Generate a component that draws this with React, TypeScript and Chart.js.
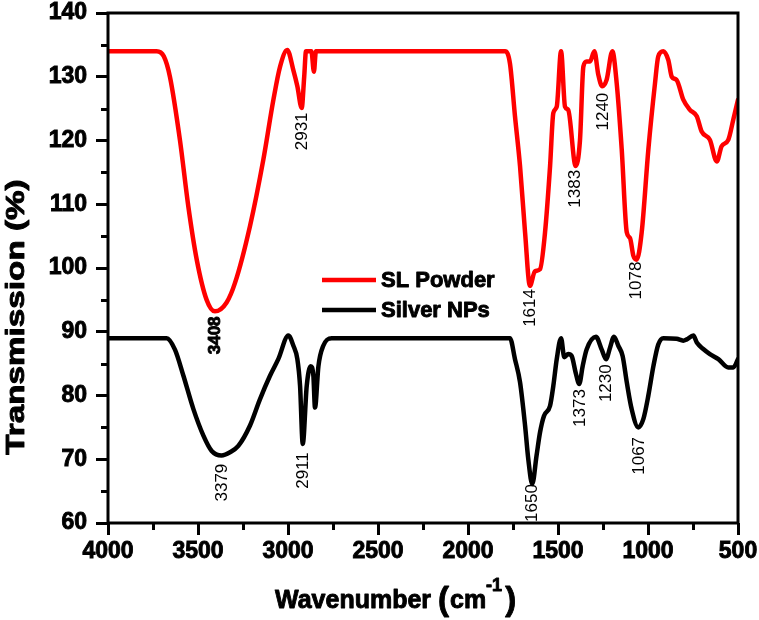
import React, { useEffect, useRef } from "react";
import { Chart, registerables } from "chart.js";

Chart.register(...registerables);

// ---- Data ----
const slWavenumber = [
  4000, 3800, 3730, 3690, 3656, 3600, 3554, 3507, 3452, 3406, 3341, 3294, 3211, 3137, 3081, 3044, 3004,
  2970, 2948, 2924, 2910, 2900, 2870, 2856, 2845, 2600, 2200, 1794, 1767, 1739, 1711, 1683, 1656, 1628,
  1600, 1572, 1544, 1526, 1507, 1483, 1461, 1443, 1402, 1378, 1359, 1341, 1322, 1298, 1276, 1254, 1230,
  1198, 1174, 1146, 1118, 1100, 1081, 1063, 1035, 998, 961, 943, 915, 887, 868, 841, 804, 767, 729, 702,
  656, 618, 591, 554, 526, 500,
];
const slTransmission = [
  134, 134, 134, 133.2, 130, 120, 109.7, 101.3, 95, 93.2, 94.6, 97.7, 106.6, 117, 126.4, 131.6, 134.2,
  131, 128.5, 125.1, 130, 134, 134, 130.8, 134, 134, 134, 134, 132.1, 123.8, 116, 105.6, 97.2, 99.5,
  99.8, 105.6, 116, 124.3, 125.3, 134, 125.3, 124.8, 116, 120, 131.6, 132.4, 132.4, 134, 130.3, 128.5, 129.5,
  134, 129, 118.6, 105.6, 104.7, 101.9, 101.3, 105.6, 118.6, 129, 133.2, 134, 132.6, 130, 129.5, 126.4, 124.8, 123.8, 121.4,
  120.1, 116.7, 119.1, 120.1, 123.3, 126.4,
];
const agWavenumber = [
  4000, 3700, 3674, 3628, 3581, 3526, 3470, 3424, 3369, 3322, 3276, 3211, 3156, 3100, 3054, 2998, 2970,
  2948, 2933, 2918, 2896, 2874, 2859, 2850, 2831, 2804, 2757, 2300, 1767, 1739, 1711, 1683, 1665, 1643,
  1619, 1600, 1578, 1544, 1526, 1507, 1483, 1465, 1443, 1424, 1402, 1382, 1363, 1341, 1289, 1257, 1233,
  1211, 1189, 1165, 1141, 1118, 1091, 1054, 1026, 998, 970, 943, 915, 841, 804, 785, 748, 729, 693, 656,
  609, 554, 526, 500,
];
const agTransmission = [
  89, 89, 89, 87.2, 83.1, 77.9, 73.7, 71.3, 70.6, 71.1, 72.1, 75.3, 79.4, 83.1, 85.7, 89.4, 87.8,
  85.7, 81.5, 72.4, 81.5, 84.6, 83.1, 78.1, 84.6, 87.8, 89, 89, 89, 85.7, 82.1, 75.3, 70, 66.1,
  70.6, 74.2, 76.8, 78.4, 81.5, 85.7, 89, 86, 86.5, 86.2, 83.6, 81.8, 84.6, 87.2, 89.2, 87.2, 85.7,
  87.5, 89.2, 87.8, 86.2, 82.1, 77.9, 75, 76.3, 80, 84.6, 88, 89, 88.9, 88.6, 88.8, 89.4, 88.3, 87.3, 86.5,
  85.7, 84.4, 84.4, 85.7,
];

const seriesNames = ["SL Powder", "Silver NPs"];
const seriesColors = ["#ff0000", "#000000"];

const peakText = ["3408", "2931", "1614", "1383", "1240", "1078", "3379", "2911", "1650", "1373", "1230", "1067"];
const peakWavenumber = [3406, 2922, 1656, 1406, 1250, 1067, 3367, 2917, 1644, 1378, 1233, 1050];
const peakTop = [92.4, 124.4, 96.7, 115.4, 127.5, 101, 69.3, 71.1, 66.1, 81, 84.9, 73.5];
const peakBold = [true, false, false, false, false, false, false, false, false, false, false, false];

const xMin = 500;
const xMax = 4000;
const xStep = 500;
const xMinorTicks = [3750, 3250, 2750, 2250, 1750, 1250, 750];
const yMin = 60;
const yMax = 140;
const yStep = 10;
const yMinorTicks = [65, 75, 85, 95, 105, 115, 125, 135];

const FONT = "'Liberation Sans', Arial, Helvetica, sans-serif";

function heavyText(ctx: any, t: string, x: number, y: number) {
  ctx.strokeStyle = "#000";
  ctx.lineWidth = 0.9;
  ctx.lineJoin = "round";
  ctx.strokeText(t, x, y);
  ctx.fillText(t, x, y);
}

const decorPlugin = {
  id: "decor",
  afterDatasetsDraw(chart: any) {
    const { ctx, chartArea } = chart;
    const xs = chart.scales.x;
    const ys = chart.scales.y;
    ctx.save();
    // frame
    ctx.strokeStyle = "#000";
    ctx.lineWidth = 3;
    ctx.strokeRect(chartArea.left, chartArea.top, chartArea.right - chartArea.left, chartArea.bottom - chartArea.top);
    // minor ticks
    ctx.beginPath();
    xMinorTicks.forEach((v) => {
      const px = Math.round(xs.getPixelForValue(v)) + 0.5;
      ctx.moveTo(px, chartArea.bottom);
      ctx.lineTo(px, chartArea.bottom + 7);
    });
    yMinorTicks.forEach((v) => {
      const py = Math.round(ys.getPixelForValue(v)) + 0.5;
      ctx.moveTo(chartArea.left, py);
      ctx.lineTo(chartArea.left - 7, py);
    });
    ctx.stroke();

    // peak labels
    ctx.fillStyle = "#000";
    peakText.forEach((t, i) => {
      const px = xs.getPixelForValue(peakWavenumber[i]);
      const py = ys.getPixelForValue(peakTop[i]);
      ctx.save();
      ctx.translate(px, py);
      ctx.rotate(-Math.PI / 2);
      ctx.font = (peakBold[i] ? "bold " : "") + "17px " + FONT;
      ctx.textAlign = "right";
      ctx.textBaseline = "middle";
      if (peakBold[i]) heavyText(ctx, t, 0, 0);
      else ctx.fillText(t, 0, 0);
      ctx.restore();
    });

    // legend
    const legendY = [280, 310];
    chart.data.datasets.forEach((ds: any, i: number) => {
      ctx.strokeStyle = ds.borderColor;
      ctx.lineWidth = 4.5;
      ctx.lineCap = "butt";
      ctx.beginPath();
      ctx.moveTo(322, legendY[i]);
      ctx.lineTo(376, legendY[i]);
      ctx.stroke();
      ctx.fillStyle = "#000";
      ctx.font = "bold 22px " + FONT;
      ctx.textAlign = "left";
      ctx.textBaseline = "middle";
      heavyText(ctx, ds.label, 381, legendY[i] + 1);
    });

    // y-axis title
    ctx.save();
    ctx.translate(17, 317);
    ctx.rotate(-Math.PI / 2);
    ctx.scale(1.33, 1);
    ctx.font = "bold 25px " + FONT;
    ctx.textAlign = "center";
    ctx.textBaseline = "middle";
    ctx.fillStyle = "#000";
    heavyText(ctx, "Transmission (%)", 0, 0);
    ctx.restore();

    // x-axis title with superscript
    ctx.fillStyle = "#000";
    ctx.textAlign = "left";
    ctx.textBaseline = "alphabetic";
    let x = 275;
    const base = 608;
    ctx.font = "bold 25px " + FONT;
    heavyText(ctx, "Wavenumber ", x, base);
    x += ctx.measureText("Wavenumber ").width;
    ctx.font = "bold 33px " + FONT;
    heavyText(ctx, "(", x, base + 2);
    x += ctx.measureText("(").width + 1;
    ctx.font = "bold 25px " + FONT;
    heavyText(ctx, "cm", x, base);
    x += ctx.measureText("cm").width;
    ctx.font = "bold 18px " + FONT;
    heavyText(ctx, "-1", x, base - 17);
    x += ctx.measureText("-1").width + 3;
    ctx.font = "bold 33px " + FONT;
    heavyText(ctx, ")", x, base + 2);
    ctx.restore();
  },
};

export default function App() {
  const ref = useRef<HTMLCanvasElement | null>(null);

  useEffect(() => {
    if (!ref.current) return;
    const tickFont = { family: FONT, size: 23, weight: "bold", lineHeight: 1 };
    const chart = new Chart(ref.current, {
      type: "line",
      data: {
        datasets: [
          {
            label: seriesNames[0],
            data: slWavenumber.map((w, i) => ({ x: w, y: slTransmission[i] })),
            borderColor: seriesColors[0],
            backgroundColor: seriesColors[0],
            borderWidth: 4.5,
            pointRadius: 0,
            cubicInterpolationMode: "monotone",
            borderJoinStyle: "round",
            borderCapStyle: "round",
          },
          {
            label: seriesNames[1],
            data: agWavenumber.map((w, i) => ({ x: w, y: agTransmission[i] })),
            borderColor: seriesColors[1],
            backgroundColor: seriesColors[1],
            borderWidth: 4.5,
            pointRadius: 0,
            cubicInterpolationMode: "monotone",
            borderJoinStyle: "round",
            borderCapStyle: "round",
          },
        ],
      },
      options: {
        animation: false,
        responsive: false,
        maintainAspectRatio: false,
        layout: { padding: { left: 0, right: 21, top: 13, bottom: 0 } },
        plugins: {
          legend: { display: false },
          tooltip: { enabled: false },
        },
        scales: {
          x: {
            type: "linear",
            reverse: true,
            min: xMin,
            max: xMax,
            afterFit: (s: any) => {
              s.height = 97;
              s.paddingLeft = 0;
              s.paddingRight = 0;
            },
            border: { display: false },
            grid: {
              display: true,
              drawOnChartArea: false,
              drawTicks: true,
              tickLength: 12,
              color: "#000",
              lineWidth: 3,
            },
            ticks: {
              stepSize: xStep,
              autoSkip: false,
              maxRotation: 0,
              padding: 5,
              color: "#000",
              textStrokeColor: "#000",
              textStrokeWidth: 0.9,
              font: tickFont,
              callback: (v: any) => String(v),
            },
          },
          y: {
            type: "linear",
            min: yMin,
            max: yMax,
            afterFit: (s: any) => {
              s.width = 108;
              s.paddingTop = 0;
              s.paddingBottom = 0;
            },
            border: { display: false },
            grid: {
              display: true,
              drawOnChartArea: false,
              drawTicks: true,
              tickLength: 12,
              color: "#000",
              lineWidth: 3,
            },
            ticks: {
              stepSize: yStep,
              padding: 9,
              color: "#000",
              textStrokeColor: "#000",
              textStrokeWidth: 0.9,
              font: tickFont,
              callback: (v: any) => String(v),
            },
          },
        },
      },
      plugins: [decorPlugin],
    } as any);
    return () => chart.destroy();
  }, []);

  return (
    <div style={{ position: "absolute", left: 0, top: 0, width: 759, height: 620, background: "#fff" }}>
      <canvas ref={ref} width={759} height={620} style={{ display: "block", width: 759, height: 620 }} />
    </div>
  );
}
